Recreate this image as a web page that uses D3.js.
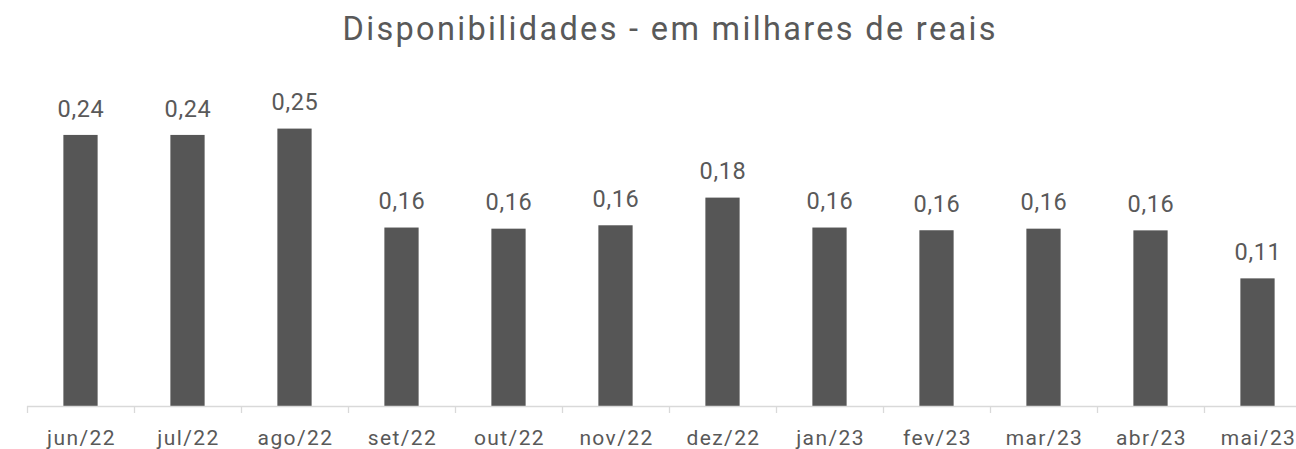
<!DOCTYPE html>
<html>
<head>
<meta charset="utf-8">
<script src="https://cdn.jsdelivr.net/npm/d3@7"></script>
<style>
  html, body { margin: 0; padding: 0; background: #ffffff; }
  svg { display: block; font-family: Roboto, "Noto Sans", sans-serif; }
</style>
</head>
<body>
<svg id="chart" width="1296" height="449"></svg>
<script>
const categories = ["jun/22", "jul/22", "ago/22", "set/22", "out/22", "nov/22",
                    "dez/22", "jan/23", "fev/23", "mar/23", "abr/23", "mai/23"];
const values = [0.240, 0.240, 0.2456, 0.158, 0.157, 0.160,
                0.1845, 0.158, 0.1556, 0.157, 0.1555, 0.113];
const title = "Disponibilidades - em milhares de reais";

const W = 1296, H = 449;
const plot = { left: 27, right: 1311, bottom: 406, top: 67.15 };

const svg = d3.select("#chart");

const x = d3.scaleBand()
  .domain(categories)
  .range([plot.left, plot.right])
  .paddingInner(0.68)
  .paddingOuter(0.34);

const y = d3.scaleLinear()
  .domain([0, 0.3])
  .range([plot.bottom, plot.top]);

const fmt = v => d3.format(".2f")(v).replace(".", ",");

// bars
svg.append("g")
  .selectAll("rect")
  .data(values)
  .join("rect")
  .attr("x", (d, i) => x(categories[i]))
  .attr("width", x.bandwidth())
  .attr("y", d => y(d))
  .attr("height", d => y(0) - y(d))
  .attr("fill", "#565656");

// value labels
svg.append("g")
  .selectAll("text")
  .data(values)
  .join("text")
  .attr("x", (d, i) => x(categories[i]) + x.bandwidth() / 2 + 0.5)
  .attr("y", d => y(d) - 18.3)
  .attr("text-anchor", "middle")
  .attr("font-size", 23.5)
  .attr("letter-spacing", "0.7px")
  .attr("fill", "#595959")
  .text(d => fmt(d));

// x axis
const xAxis = d3.axisBottom(x).tickSize(0).tickPadding(0);
const gx = svg.append("g")
  .attr("transform", `translate(0,${plot.bottom})`)
  .call(xAxis);
gx.select(".domain").remove();
gx.append("line")
  .attr("x1", plot.left).attr("x2", plot.right)
  .attr("y1", 0.5).attr("y2", 0.5)
  .attr("stroke", "#d9d9d9").attr("stroke-width", 1.3);
// category boundary ticks
const step = x.step();
gx.append("g")
  .selectAll("line")
  .data(d3.range(categories.length + 1))
  .join("line")
  .attr("x1", i => Math.round(plot.left + i * step) + 0.5)
  .attr("x2", i => Math.round(plot.left + i * step) + 0.5)
  .attr("y1", 0).attr("y2", 7)
  .attr("stroke", "#d9d9d9").attr("stroke-width", 1.3);
gx.selectAll(".tick text")
  .attr("y", 39)
  .attr("dy", null)
  .attr("x", 1)
  .attr("font-size", 21)
  .attr("letter-spacing", "1.4px")
  .attr("font-family", "Roboto, 'Noto Sans', sans-serif")
  .attr("fill", "#595959");

// title
svg.append("text")
  .attr("x", 669)
  .attr("y", 39.5)
  .attr("text-anchor", "middle")
  .attr("font-size", 32.5)
  .attr("fill", "#595959")
  .attr("textLength", 653)
  .attr("lengthAdjust", "spacing")
  .text(title);
</script>
</body>
</html>
